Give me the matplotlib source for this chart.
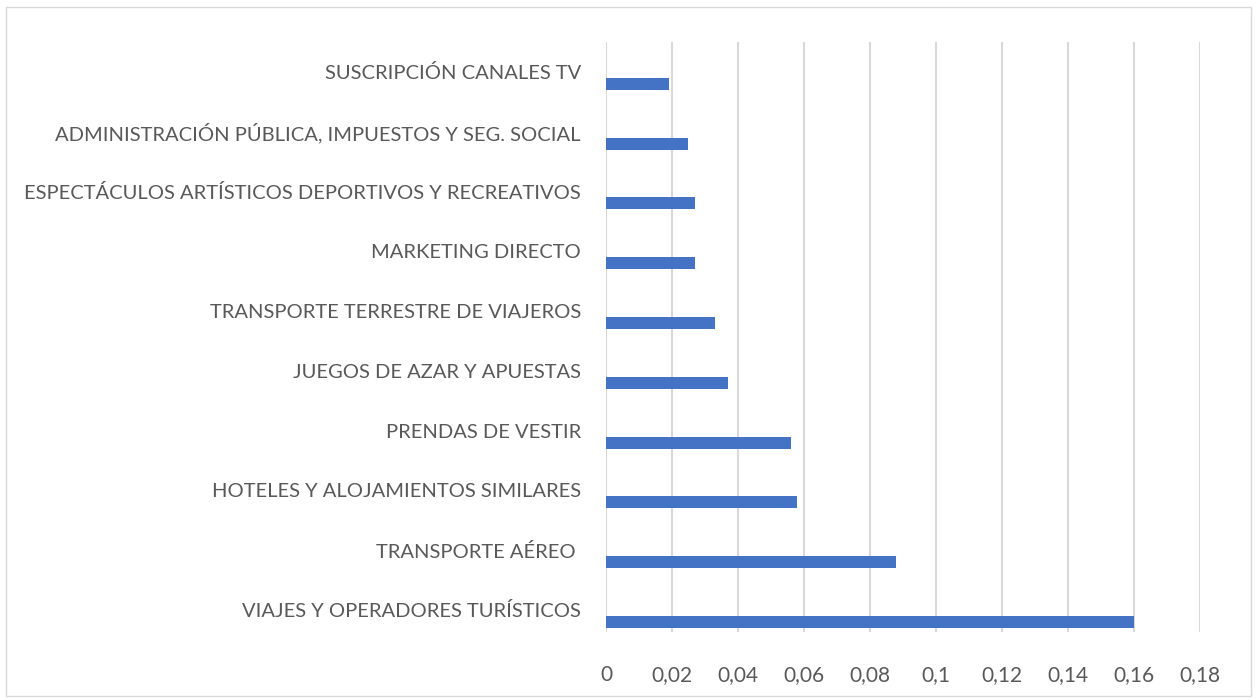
import matplotlib.pyplot as plt
import matplotlib.patches as mpatches
import numpy as np

# ── Data (bottom to top) ─────────────────────────────────────────────────────
categories = [
    "VIAJES Y OPERADORES TURÍSTICOS",
    "TRANSPORTE AÉREO ",
    "HOTELES Y ALOJAMIENTOS SIMILARES",
    "PRENDAS DE VESTIR",
    "JUEGOS DE AZAR Y APUESTAS",
    "TRANSPORTE TERRESTRE DE VIAJEROS",
    "MARKETING DIRECTO",
    "ESPECTÁCULOS ARTÍSTICOS DEPORTIVOS Y RECREATIVOS",
    "ADMINISTRACIÓN PÚBLICA, IMPUESTOS Y SEG. SOCIAL",
    "SUSCRIPCIÓN CANALES TV",
]
values = [0.160, 0.088, 0.058, 0.056, 0.037, 0.033, 0.027, 0.027, 0.025, 0.019]
xticks = [0, 0.02, 0.04, 0.06, 0.08, 0.10, 0.12, 0.14, 0.16, 0.18]
xtick_labels = ["0", "0,02", "0,04", "0,06", "0,08", "0,1", "0,12", "0,14", "0,16", "0,18"]

BAR = "#4472C4"
GRID = "#D9D9D9"
TEXT = "#595959"

plt.rcParams["font.family"] = ["Lato", "DejaVu Sans"]

fig = plt.figure(figsize=(12.59, 7.0), dpi=100)
fig.patch.set_facecolor("white")
# light outer border like the Excel chart area
fig.patches.append(mpatches.Rectangle((0.005, 0.006), 0.989, 0.984,
                                      transform=fig.transFigure, fill=False,
                                      edgecolor=GRID, linewidth=1.0))

ax = fig.add_axes([0.4813, 0.0971, 0.4718, 0.8429])
y = np.arange(len(categories))
ax.barh(y - 0.2, values, height=0.2, color=BAR, zorder=3)

ax.set_xlim(0, 0.18)
ax.set_ylim(-0.37, 9.5)
ax.set_xticks(xticks)
ax.set_xticklabels(xtick_labels)
ax.set_yticks(y)
ax.set_yticklabels(categories)

ax.grid(axis="x", color=GRID, linewidth=1.5, zorder=0)
ax.grid(axis="y", visible=False)
for s in ax.spines.values():
    s.set_visible(False)
ax.tick_params(axis="both", length=0, colors=TEXT)
ax.tick_params(axis="y", pad=18, labelsize=14.5)
ax.tick_params(axis="x", pad=24, labelsize=15)

fig.savefig("out.png", dpi=100, facecolor="white")
